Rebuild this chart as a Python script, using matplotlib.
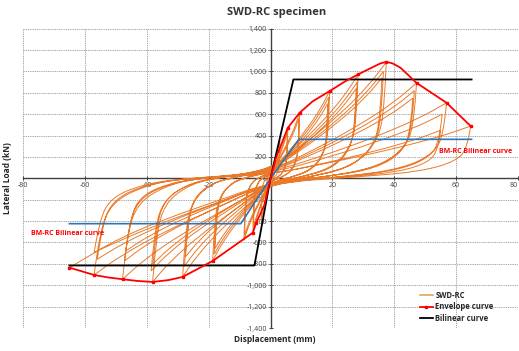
import matplotlib
matplotlib.use("Agg")
import matplotlib.pyplot as plt
from matplotlib.ticker import FuncFormatter
from matplotlib.path import Path
from matplotlib.patches import PathPatch
from matplotlib.lines import Line2D
import numpy as np

plt.rcParams['font.family'] = ['Open Sans', 'DejaVu Sans']

# ---------------- data ----------------
title = "SWD-RC specimen"
x_label = "Displacement (mm)"
y_label = "Lateral Load (kN)"
legend_labels = ["SWD-RC", "Envelope curve", "Bilinear curve"]
bm_label = "BM-RC Bilinear curve"

x_ticks = [-80, -60, -40, -20, 0, 20, 40, 60, 80]
y_ticks = [-1400, -1200, -1000, -800, -600, -400, -200, 0, 200, 400, 600, 800, 1000, 1200, 1400]

# hysteresis cycles (displacement mm, load kN)
cycle_01 = [(0, 0), (0.45, 60), (0.9, 110), (1.28, 160), (1.5, 200), (1.48, 120), (1.4, 66), (1.13, 26), (0.68, 6), (0, -11), (-0.45, -66), (-0.9, -121), (-1.28, -176), (-1.5, -220), (-1.46, -121), (-1.35, -55), (-1.08, -18), (-0.75, 0)]
cycle_02 = [(0, 29), (0.9, 108), (1.8, 198), (2.55, 288), (3.0, 360), (2.96, 216), (2.79, 119), (2.25, 47), (1.35, 11), (0, -20), (-0.9, -120), (-1.8, -220), (-2.55, -320), (-3.0, -400), (-2.91, -220), (-2.7, -100), (-2.16, -32), (-1.5, 0)]
cycle_03 = [(0, 38), (1.68, 142), (3.36, 260), (4.76, 378), (5.6, 473), (5.52, 284), (5.21, 156), (4.2, 61), (2.52, 14), (0, -25), (-1.71, -152), (-3.42, -279), (-4.85, -406), (-5.7, -508), (-5.53, -279), (-5.13, -127), (-4.1, -41), (-2.85, 0)]
cycle_04 = [(0, 34), (1.62, 129), (3.24, 237), (4.59, 344), (5.4, 430), (5.32, 258), (5.02, 142), (4.05, 56), (2.43, 13), (0, -23), (-1.65, -138), (-3.3, -253), (-4.68, -368), (-5.5, -460), (-5.34, -253), (-4.95, -115), (-3.96, -37), (-2.75, 0)]
cycle_05 = [(0, 49), (2.82, 184), (5.64, 337), (7.99, 490), (9.4, 613), (9.26, 368), (8.74, 202), (7.05, 80), (4.23, 18), (0, -29), (-2.58, -174), (-5.16, -319), (-7.31, -464), (-8.6, -580), (-8.34, -319), (-7.74, -145), (-6.19, -46), (-4.3, 0)]
cycle_06 = [(0, 45), (2.76, 168), (5.52, 308), (7.82, 448), (9.2, 560), (9.06, 336), (8.56, 185), (6.9, 73), (4.14, 17), (0, -27), (-2.52, -159), (-5.04, -292), (-7.14, -424), (-8.4, -530), (-8.15, -292), (-7.56, -133), (-6.05, -42), (-4.2, 0)]
cycle_07 = [(0, 65), (5.73, 245), (11.46, 449), (16.24, 653), (19.1, 816), (18.81, 490), (17.76, 269), (14.33, 106), (8.6, 24), (0, -39), (-5.61, -232), (-11.22, -425), (-15.9, -618), (-18.7, -773), (-18.14, -425), (-16.83, -193), (-13.46, -62), (-9.35, 0)]
cycle_08 = [(0, 61), (5.64, 228), (11.28, 418), (15.98, 608), (18.8, 760), (18.52, 456), (17.48, 251), (14.1, 99), (8.46, 23), (0, -36), (-5.46, -213), (-10.92, -391), (-15.47, -568), (-18.2, -710), (-17.65, -391), (-16.38, -178), (-13.1, -57), (-9.1, 0)]
cycle_09 = [(0, 56), (5.55, 210), (11.1, 385), (15.73, 560), (18.5, 700), (18.22, 420), (17.21, 231), (13.88, 91), (8.33, 21), (0, -33), (-5.4, -198), (-10.8, -363), (-15.3, -528), (-18.0, -660), (-17.46, -363), (-16.2, -165), (-12.96, -53), (-9.0, 0)]
cycle_10 = [(0, 78), (8.49, 292), (16.98, 535), (24.06, 778), (28.3, 972), (27.88, 583), (26.32, 321), (21.23, 126), (12.74, 29), (0, -46), (-8.52, -277), (-17.04, -507), (-24.14, -738), (-28.4, -922), (-27.55, -507), (-25.56, -231), (-20.45, -74), (-14.2, 0)]
cycle_11 = [(0, 72), (8.4, 270), (16.8, 495), (23.8, 720), (28.0, 900), (27.58, 540), (26.04, 297), (21.0, 117), (12.6, 27), (0, -41), (-8.34, -246), (-16.68, -451), (-23.63, -656), (-27.8, -820), (-26.97, -451), (-25.02, -205), (-20.02, -66), (-13.9, 0)]
cycle_12 = [(0, 67), (8.31, 252), (16.62, 462), (23.55, 672), (27.7, 840), (27.28, 504), (25.76, 277), (20.78, 109), (12.47, 25), (0, -37), (-8.25, -221), (-16.5, -404), (-23.38, -588), (-27.5, -735), (-26.68, -404), (-24.75, -184), (-19.8, -59), (-13.75, 0)]
cycle_13 = [(0, 87), (11.22, 326), (22.44, 598), (31.79, 870), (37.4, 1087), (36.84, 652), (34.78, 359), (28.05, 141), (16.83, 33), (0, -48), (-11.43, -291), (-22.86, -533), (-32.39, -775), (-38.1, -969), (-36.96, -533), (-34.29, -242), (-27.43, -78), (-19.05, 0)]
cycle_14 = [(0, 80), (10.95, 300), (21.9, 550), (31.03, 800), (36.5, 1000), (35.95, 600), (33.95, 330), (27.38, 130), (16.43, 30), (0, -43), (-11.58, -260), (-23.16, -476), (-32.81, -693), (-38.6, -866), (-37.44, -476), (-34.74, -217), (-27.79, -69), (-19.3, 0)]
cycle_15 = [(0, 75), (10.8, 282), (21.6, 517), (30.6, 752), (36.0, 940), (35.46, 564), (33.48, 310), (27.0, 122), (16.2, 28), (0, -40), (-11.4, -240), (-22.8, -440), (-32.3, -640), (-38.0, -800), (-36.86, -440), (-34.2, -200), (-27.36, -64), (-19.0, 0)]
cycle_16 = [(0, 71), (14.16, 268), (28.32, 491), (40.12, 714), (47.2, 893), (46.49, 536), (43.9, 295), (35.4, 116), (21.24, 27), (0, -47), (-14.34, -283), (-28.68, -519), (-40.63, -755), (-47.8, -944), (-46.37, -519), (-43.02, -236), (-34.42, -76), (-23.9, 0)]
cycle_17 = [(0, 66), (13.95, 246), (27.9, 451), (39.53, 656), (46.5, 820), (45.8, 492), (43.25, 271), (34.88, 107), (20.93, 25), (0, -39), (-14.16, -232), (-28.32, -425), (-40.12, -618), (-47.2, -773), (-45.78, -425), (-42.48, -193), (-33.98, -62), (-23.6, 0)]
cycle_18 = [(0, 60), (13.8, 225), (27.6, 413), (39.1, 600), (46.0, 750), (45.31, 450), (42.78, 248), (34.5, 98), (20.7, 23), (0, -34), (-14.04, -204), (-28.08, -374), (-39.78, -544), (-46.8, -680), (-45.4, -374), (-42.12, -170), (-33.7, -54), (-23.4, 0)]
cycle_19 = [(0, 57), (17.07, 212), (34.14, 389), (48.37, 566), (56.9, 707), (56.05, 424), (52.92, 233), (42.68, 92), (25.61, 21), (0, -45), (-17.1, -271), (-34.2, -497), (-48.45, -723), (-57.0, -904), (-55.29, -497), (-51.3, -226), (-41.04, -72), (-28.5, 0)]
cycle_20 = [(0, 48), (16.65, 180), (33.3, 330), (47.18, 480), (55.5, 600), (54.67, 360), (51.62, 198), (41.63, 78), (24.98, 18), (0, -38), (-16.8, -227), (-33.6, -416), (-47.6, -606), (-56.0, -757), (-54.32, -416), (-50.4, -189), (-40.32, -61), (-28.0, 0)]
cycle_21 = [(0, 36), (16.5, 135), (33.0, 248), (46.75, 360), (55.0, 450), (54.18, 270), (51.15, 149), (41.25, 59), (24.75, 14), (0, -35), (-17.1, -209), (-34.2, -382), (-48.45, -556), (-57.0, -695), (-55.29, -382), (-51.3, -174), (-41.04, -56), (-28.5, 0)]
cycle_22 = [(0, 39), (19.41, 147), (38.82, 269), (55.0, 391), (64.7, 489), (63.73, 293), (60.17, 161), (48.53, 64), (29.12, 15), (0, -42), (-19.5, -251), (-39.0, -459), (-55.25, -668), (-65.0, -835)]

# envelope curve (marked points plus a few unmarked points)
env_x = [-65.0, -57.0, -52.5, -47.8, -43.0, -38.1, -33.0, -28.4, -18.7, -5.7, -4.6, -2.0, 0, 1.8, 5.6, 9.4, 13.6, 19.1, 24.0, 28.3, 33.0, 35.5, 37.4, 39.5, 42.0, 47.2, 56.9, 64.7]
env_y = [-835, -904, -927, -944, -960, -969, -952, -922, -773, -508, -415, -250, 0, 193, 473, 613, 720, 816, 905, 972, 1040, 1075, 1090, 1075, 1035, 893, 707, 489]
env_marked = [0, 1, 3, 5, 7, 8, 9, 10, 14, 15, 17, 19, 22, 25, 26, 27]

# bilinear curve (SWD-RC)
bil_x = [-65.0, -5.2, 0, 7.4, 65.0]
bil_y = [-815, -815, 0, 925, 925]

# BM-RC bilinear curve
bm_x = [-65.0, -9.6, 0, 9.2, 65.0]
bm_y = [-424, -424, 0, 365, 365]


def smooth_path(points):
    """Quadratic-Bezier path through the read points; load reversals stay sharp."""
    p = np.asarray(points, dtype=float)
    n = len(p)
    verts = [p[0]]
    codes = [Path.MOVETO]
    for i in range(1, n - 1):
        corner = (p[i, 0] - p[i - 1, 0]) * (p[i + 1, 0] - p[i, 0]) < 0
        if corner or i + 1 == n - 1:
            verts.append(p[i]); codes.append(Path.LINETO)
        else:
            verts += [p[i], (p[i] + p[i + 1]) / 2]
            codes += [Path.CURVE3, Path.CURVE3]
    verts.append(p[-1]); codes.append(Path.LINETO)
    return Path(verts, codes)


# ---------------- plot ----------------
W, H = 519, 351
fig = plt.figure(figsize=(W / 100, H / 100), dpi=100)
ax = fig.add_axes([23 / W, 1 - 328 / H, 495 / W, 299.3 / H])

cycles = [cycle_01, cycle_02, cycle_03, cycle_04, cycle_05, cycle_06, cycle_07, cycle_08,
          cycle_09, cycle_10, cycle_11, cycle_12, cycle_13, cycle_14, cycle_15, cycle_16,
          cycle_17, cycle_18, cycle_19, cycle_20, cycle_21, cycle_22]
pts = [pt for c in cycles for pt in c]

orange = '#E97A2A'
ax.add_patch(PathPatch(smooth_path(pts), facecolor='none', edgecolor=orange, lw=0.7, zorder=3))
ax.plot(bm_x, bm_y, color='#2E75B6', lw=1.2, zorder=4)
ax.plot(env_x, env_y, color='#FF0000', lw=1.3, marker='s', ms=2.0, markevery=env_marked, zorder=5)
ax.plot(bil_x, bil_y, color='black', lw=1.3, zorder=4)

ax.set_xlim(-80, 80)
ax.set_ylim(-1400, 1400)
ax.set_xticks(x_ticks)
ax.set_yticks(y_ticks)
ax.yaxis.set_major_formatter(FuncFormatter(lambda v, p: f"{int(v):,}"))
ax.xaxis.set_major_formatter(FuncFormatter(lambda v, p: f"{int(v)}"))

for s in ['top', 'right']:
    ax.spines[s].set_visible(False)
ax.spines['left'].set_position(('data', 0))
ax.spines['bottom'].set_position(('data', 0))
for s in ['left', 'bottom']:
    ax.spines[s].set_color('#404040')
    ax.spines[s].set_linewidth(1.0)
    ax.spines[s].set_zorder(2.6)

ax.tick_params(axis='both', which='major', labelsize=5, colors='#404040', direction='inout',
               length=3, width=0.7, pad=1)
ax.grid(True, color='#8C8C8C', linestyle=(0, (2, 1.2)), linewidth=0.5)
ax.set_axisbelow(True)
fig.canvas.draw()
ax.get_xticklabels()[-1].set_horizontalalignment('right')

fig.text(277 / W, 1 - 12 / H, title, ha='center', va='center', fontsize=8, fontweight='bold', color='#333333')
fig.text(275 / W, 1 - 340 / H, x_label, ha='center', va='center', fontsize=6, fontweight='bold', color='#262626')
fig.text(8 / W, 1 - 178 / H, y_label, ha='center', va='center', rotation=90, fontsize=6, fontweight='bold', color='#262626')

ax.text(54.4, 255, bm_label, color='#FF0000', fontsize=5, fontweight='bold', ha='left', va='center', zorder=6)
ax.text(-77.3, -520, bm_label, color='#FF0000', fontsize=5, fontweight='bold', ha='left', va='center', zorder=6)

handles = [Line2D([], [], color='#E59A55', lw=1.1),
           Line2D([], [], color='#FF0000', lw=1.3, marker='s', ms=2.0),
           Line2D([], [], color='black', lw=1.3)]
leg = fig.legend(handles, legend_labels, loc='lower left', bbox_to_anchor=(420 / W, 1 - 323 / H),
                 frameon=False, fontsize=5.5, handlelength=1.7, handletextpad=0.3, labelspacing=0.35,
                 borderpad=0, borderaxespad=0)
for t in leg.get_texts():
    t.set_fontweight('bold')
    t.set_color('#262626')

fig.savefig('out.png', dpi=100)
